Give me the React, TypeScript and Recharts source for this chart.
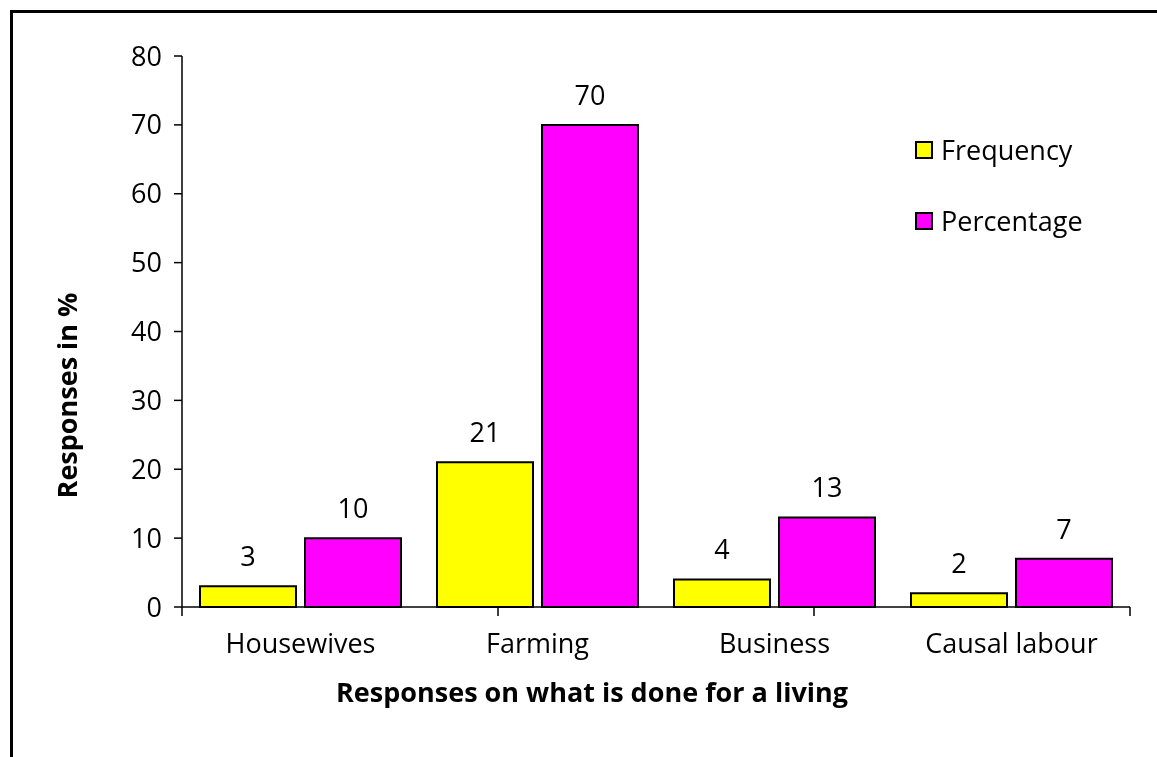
import React from 'react';
import { BarChart, Bar, XAxis, YAxis, Legend, LabelList } from 'recharts';

const categories = ['Housewives', 'Farming', 'Business', 'Causal labour'];
const frequency = [3, 21, 4, 2];
const percentage = [10, 70, 13, 7];
const yTicks = [0, 10, 20, 30, 40, 50, 60, 70, 80];
const boundaryTicks = [0, 1, 2, 3, 4];

const data = categories.map((c, i) => ({ name: c, Frequency: frequency[i], Percentage: percentage[i] }));

const FONT = '"Open Sans", "Noto Sans", sans-serif';
const COLORS: Record<string, string> = { Frequency: '#FFFF00', Percentage: '#FF00FF' };

const LegendContent = (props: any) => {
  const items = props.payload || [];
  return (
    <div style={{ fontFamily: FONT }}>
      {items.map((p: any) => (
        <div key={p.value} style={{ display: 'flex', alignItems: 'center', height: 71 }}>
          <div style={{ width: 14, height: 14, border: '2px solid #000', background: COLORS[p.value] }} />
          <span style={{ marginLeft: 8, fontSize: 27, color: '#000', lineHeight: '30px' }}>{p.value}</span>
        </div>
      ))}
    </div>
  );
};

export default function App() {
  return (
    <div style={{ position: 'relative', width: 1141, height: 741 }}>
      <div style={{ position: 'fixed', left: 10, top: 10, width: 1300, height: 900, border: '3px solid #000', boxSizing: 'border-box', pointerEvents: 'none' }} />
      <div style={{ position: 'absolute', left: 0, top: 0 }}>
        <BarChart
          width={1141}
          height={741}
          data={data}
          margin={{ top: 48, right: 19, left: 0, bottom: 47 }}
          barCategoryGap={18}
          barGap={9}
          style={{ fontFamily: FONT }}
        >
          <XAxis
            xAxisId="b"
            dataKey="name"
            type="category"
            height={86}
            axisLine={false}
            tickLine={false}
            tickSize={0}
            tickMargin={18}
            tick={{ fill: '#000', fontSize: 27, fontFamily: FONT }}
            label={{ value: 'Responses on what is done for a living', position: 'insideBottom', offset: 0, dx: -64, fill: '#000', fontSize: 27, fontWeight: 'bold', fontFamily: FONT }}
          />
          <XAxis
            xAxisId="a"
            type="number"
            domain={[0, 4]}
            ticks={boundaryTicks}
            interval={0}
            tickFormatter={() => ''}
            tick={{ fill: '#000', fontSize: 1 }}
            tickSize={9}
            tickMargin={0}
            height={9}
            axisLine={{ stroke: '#000', strokeWidth: 1.5 }}
            tickLine={{ stroke: '#000', strokeWidth: 1.5 }}
            allowDataOverflow
          />
          <YAxis
            width={174}
            domain={[0, 80]}
            ticks={yTicks}
            interval={0}
            tickSize={8}
            tickMargin={12}
            axisLine={{ stroke: '#000', strokeWidth: 1.5 }}
            tickLine={{ stroke: '#000', strokeWidth: 1.5 }}
            tick={{ fill: '#000', fontSize: 27, fontFamily: FONT }}
            label={{ value: 'Responses in %', angle: -90, position: 'center', dx: -28, dy: 64, fill: '#000', fontSize: 27, fontWeight: 'bold', fontFamily: FONT }}
          />
          <Legend
            layout="vertical"
            verticalAlign="middle"
            align="center"
            content={<LegendContent />}
            wrapperStyle={{ position: 'absolute', left: 907, top: 106, width: 220 }}
          />
          <Bar xAxisId="b" dataKey="Frequency" fill="#FFFF00" stroke="#000" strokeWidth={2} isAnimationActive={false}>
            <LabelList dataKey="Frequency" position="top" offset={20} fill="#000" fontSize={27} fontFamily={FONT} />
          </Bar>
          <Bar xAxisId="b" dataKey="Percentage" fill="#FF00FF" stroke="#000" strokeWidth={2} isAnimationActive={false}>
            <LabelList dataKey="Percentage" position="top" offset={20} fill="#000" fontSize={27} fontFamily={FONT} />
          </Bar>
        </BarChart>
      </div>
    </div>
  );
}
